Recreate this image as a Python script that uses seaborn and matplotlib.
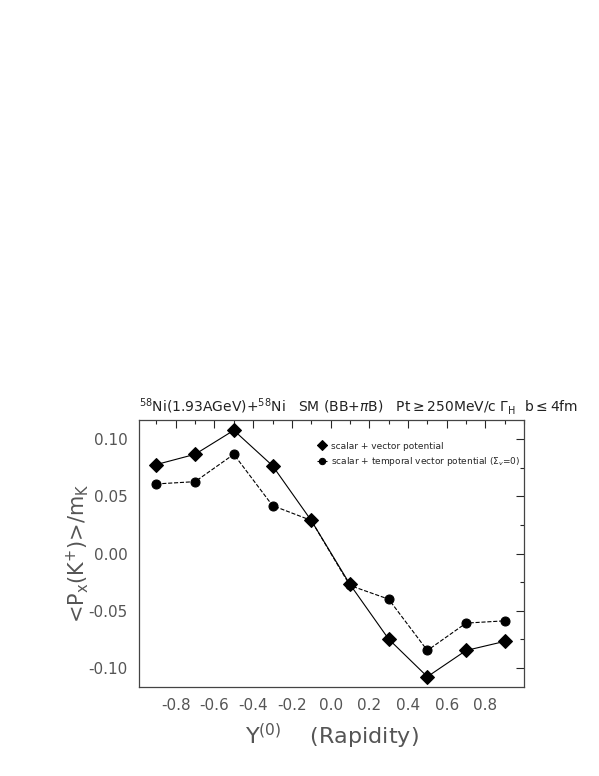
import numpy as np
import pandas as pd
import matplotlib
matplotlib.use('Agg')
import matplotlib.pyplot as plt
import seaborn as sns
from matplotlib.ticker import MultipleLocator

sns.set_theme(style="white")
plt.rcParams['font.family'] = ['DejaVu Sans']
plt.rcParams['mathtext.fontset'] = 'dejavusans'
plt.rcParams['axes.unicode_minus'] = False

rapidity = [-0.9, -0.7, -0.5, -0.3, -0.1, 0.1, 0.3, 0.5, 0.7, 0.9]
px_vector = [0.078, 0.087, 0.108, 0.077, 0.029, -0.027, -0.075, -0.108, -0.085, -0.077]
px_temporal = [0.061, 0.063, 0.087, 0.042, 0.029, -0.028, -0.040, -0.085, -0.061, -0.059]

xtick_vals = [-0.8, -0.6, -0.4, -0.2, 0.0, 0.2, 0.4, 0.6, 0.8]
ytick_vals = [-0.10, -0.05, 0.0, 0.05, 0.10]

lab_vector = 'scalar + vector potential'
lab_temporal = r'scalar + temporal vector potential ($\Sigma_v$=0)'

df = pd.DataFrame({'y': rapidity, 'vec': px_vector, 'temp': px_temporal})

fig = plt.figure(figsize=(5.99, 7.76), dpi=100)
ax = fig.add_axes([0.232, 0.1147, 0.643, 0.344])

sns.lineplot(data=df, x='y', y='vec', ax=ax, color='black', lw=0.8,
             marker='D', markersize=7, markeredgecolor='black', label=lab_vector)
sns.lineplot(data=df, x='y', y='temp', ax=ax, color='black', lw=0.8, linestyle='--',
             marker='o', markersize=6.5, markeredgecolor='black', label=lab_temporal)

ax.set_xlim(-0.99, 1.0)
ax.set_ylim(-0.117, 0.117)
ax.xaxis.set_minor_locator(MultipleLocator(0.1))
ax.yaxis.set_minor_locator(MultipleLocator(0.025))
ax.set_xticks(xtick_vals)
ax.set_xticklabels(['%.1f' % v for v in xtick_vals])
ax.set_yticks(ytick_vals)
ax.set_yticklabels(['%.2f' % v for v in ytick_vals])
ax.tick_params(which='major', direction='in', length=6, width=0.8, top=True, right=True,
               labelsize=11, labelcolor='#555555', pad=8)
ax.tick_params(which='minor', direction='in', length=3, width=0.8, top=True, right=True)
for s in ax.spines.values():
    s.set_color('#444444')
    s.set_linewidth(0.9)

ax.set_xlabel(r'Y$^{(0)}$    (Rapidity)', fontsize=16, color='#555555', labelpad=6)
ax.set_ylabel(r'<P$_{\rm x}$(K$^{+}$)>/m$_{\rm K}$', fontsize=15, color='#555555', labelpad=-2)
ax.set_title(r'$^{58}$Ni(1.93AGeV)+$^{58}$Ni   SM (BB+$\pi$B)   Pt$\geq$250MeV/c $\Gamma_{\rm H}$  b$\leq$4fm',
             fontsize=10, color='#222222', pad=6, x=0.571)

ax.legend(loc='upper left', bbox_to_anchor=(0.44, 0.95), frameon=False, fontsize=6.5,
          handlelength=1.2, handletextpad=0.4, labelspacing=0.5, markerscale=0.7)

fig.savefig('out.png', dpi=100)
